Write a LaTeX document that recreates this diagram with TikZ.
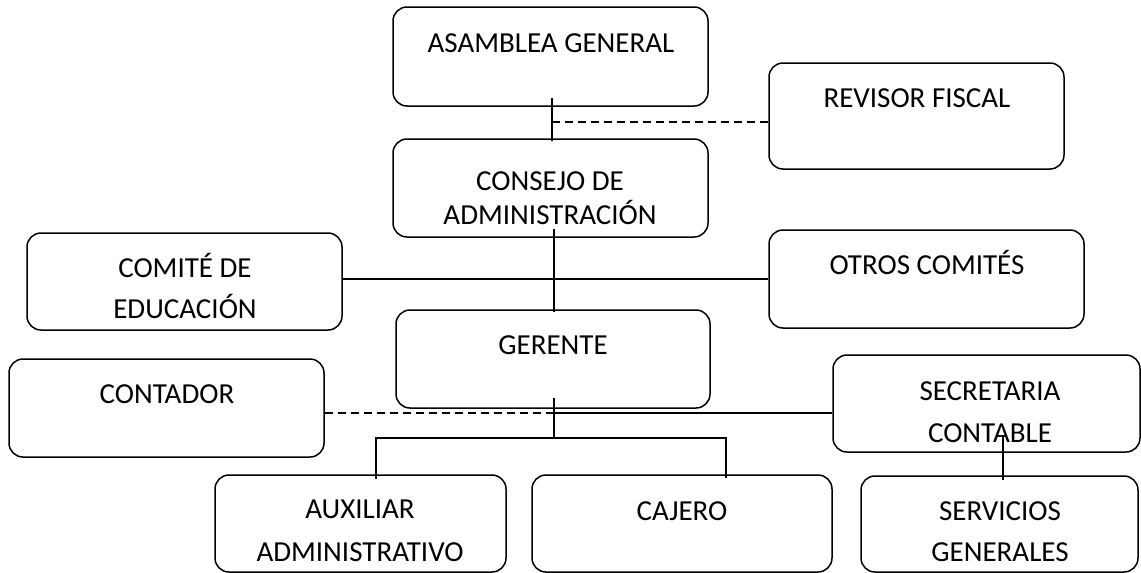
\documentclass[tikz,border=0pt]{standalone}
\usepackage{fontspec}
\setmainfont{Carlito}
\usetikzlibrary{calc}
\begin{document}
\begin{tikzpicture}[x=1pt,y=-1pt,
  box/.style={draw, rounded corners=14pt, line width=1.5pt, inner sep=0pt},
  lbl/.style={anchor=base, align=center, inner sep=0pt, font=\fontsize{29}{42}\selectfont},
  conn/.style={line width=2pt},
  dconn/.style={line width=2pt, dash pattern=on 8pt off 5pt}]
\useasboundingbox[fill=white] (0,0) rectangle (1141,573);
% boxes
\node[box, minimum width=315pt, minimum height=99pt] (asamblea) at (550.5,56.5) {};
\node[box, minimum width=295pt, minimum height=106pt] (revisor) at (916.5,116) {};
\node[box, minimum width=315pt, minimum height=98pt] (consejo) at (550.5,188) {};
\node[box, minimum width=315pt, minimum height=97pt] (comite) at (184.5,281.5) {};
\node[box, minimum width=315pt, minimum height=98pt] (otros) at (926.5,279) {};
\node[box, minimum width=314pt, minimum height=98pt] (gerente) at (553,359) {};
\node[box, minimum width=315pt, minimum height=98pt] (contador) at (166.5,408) {};
\node[box, minimum width=307pt, minimum height=97pt] (secretaria) at (986.5,403.5) {};
\node[box, minimum width=291pt, minimum height=97pt] (auxiliar) at (360.5,523.5) {};
\node[box, minimum width=300pt, minimum height=97pt] (cajero) at (682,523.5) {};
\node[box, minimum width=277pt, minimum height=96pt] (servicios) at (999.5,524) {};
% texts (base anchor = baseline of last line)
\node[lbl] (asambleaT) at (551,52) {ASAMBLEA GENERAL};
\node[lbl] (revisorT) at (917,107) {REVISOR FISCAL};
\node[lbl, font=\fontsize{29}{34}\selectfont] (consejoT) at (550,224) {CONSEJO DE\\ADMINISTRACIÓN};
\node[lbl, font=\fontsize{29}{41}\selectfont] (comiteT) at (185,318) {COMITÉ DE\\EDUCACIÓN};
\node[lbl] (otrosT) at (927,274) {OTROS COMITÉS};
\node[lbl] (gerenteT) at (553,354) {GERENTE};
\node[lbl] (contadorT) at (167,403) {CONTADOR};
\node[lbl] (secretariaT) at (990,442) {SECRETARIA\\CONTABLE};
\node[lbl, font=\fontsize{29}{43}\selectfont] (auxiliarT) at (360,561) {AUXILIAR\\ADMINISTRATIVO};
\node[lbl] (cajeroT) at (682,520) {CAJERO};
\node[lbl, font=\fontsize{29}{41}\selectfont] (serviciosT) at (1000,561) {SERVICIOS\\GENERALES};
% junctions
\coordinate (j1) at (552,122);
\coordinate (j2) at (554,413);
\coordinate (j3) at (554,438);
\coordinate (ja) at (376,438);
\coordinate (jc) at (726,438);
\coordinate (js) at (1003,435);
% connectors
\draw[conn, shorten <=-9pt, shorten >=-3pt] (asamblea.south -| j1) -- (consejo.north -| j1);
\draw[dconn] (j1) -- (j1 -| revisor.west);
\draw[conn, shorten <=-9pt, shorten >=-3pt] (consejo.south -| j2) -- (gerente.north -| j2);
\draw[conn] (comite.east |- otros.west) -- (otros.west);
\draw[conn, shorten <=-11pt] (gerente.south -| j3) -- (j3);
\draw[dconn] (contador.east |- j2) -- (j2);
\draw[conn] (j2) -- (j2 -| secretaria.west);
\draw[conn, shorten <=-5pt, shorten >=-4pt] (ja |- auxiliar.north) -- (ja) -- (jc) -- (jc |- cajero.north);
\draw[conn, shorten >=-5pt] (js) -- (js |- servicios.north);
\end{tikzpicture}
\end{document}
